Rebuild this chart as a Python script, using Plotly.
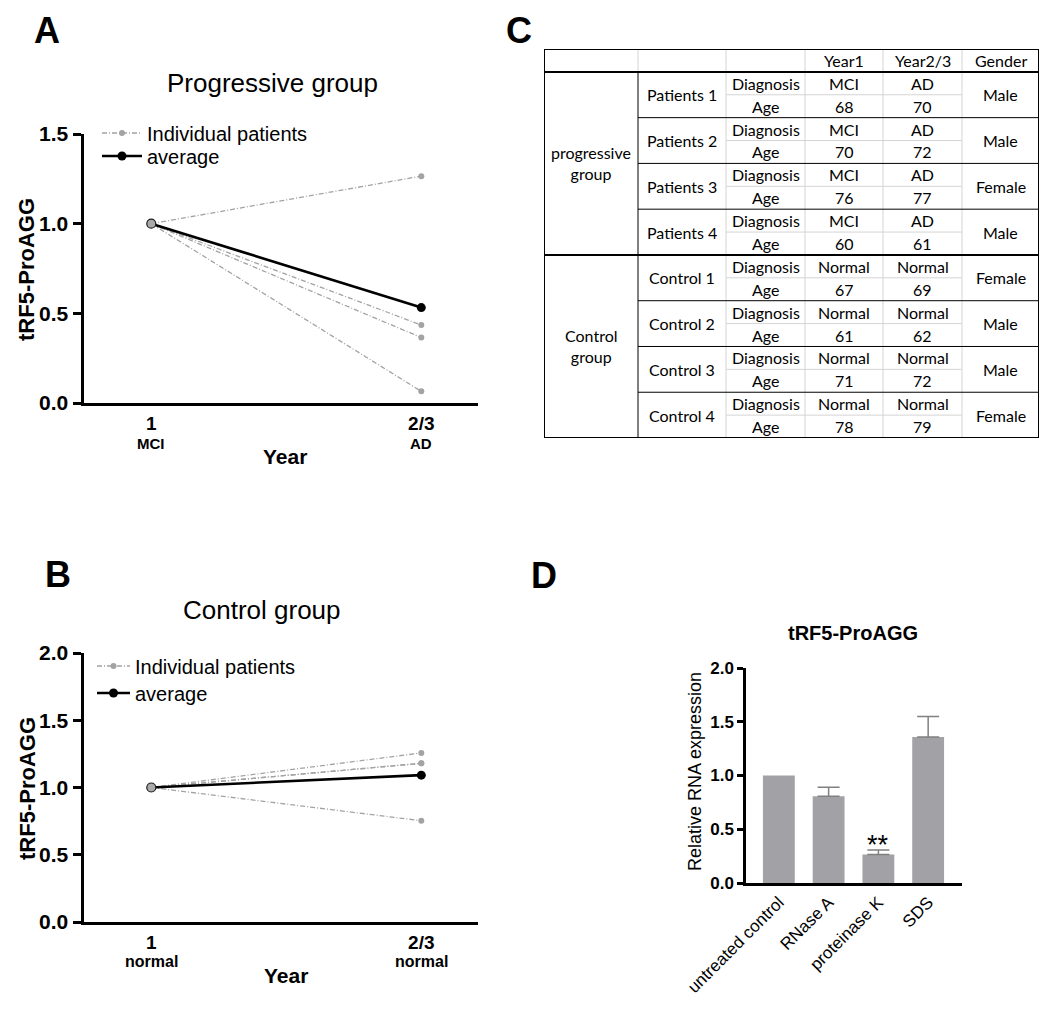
import plotly.graph_objects as go

# The page body has an 8px margin; the figure is sized to fit inside the window.
OFF = 8
W, H = 1050 - 2 * OFF, 1012 - 2 * OFF
def fx(p): return (p - OFF) / W
def fy(p): return 1 - (p - OFF) / H

FONT = "Liberation Sans, Arial, sans-serif"
TFONT = "Lato, Open Sans, sans-serif"

# ---------------- data ----------------
time_points = [0, 1]
time_labels = ["1", "2/3"]
diag_prog = ["MCI", "AD"]
diag_ctrl = ["normal", "normal"]

prog_p1 = [1.0, 1.265]
prog_p2 = [1.0, 0.435]
prog_p3 = [1.0, 0.365]
prog_p4 = [1.0, 0.065]
prog_avg = [1.0, 0.532]

ctrl_c1 = [1.0, 1.257]
ctrl_c2 = [1.0, 1.18]
ctrl_c3 = [1.0, 1.18]
ctrl_c4 = [1.0, 0.753]
ctrl_avg = [1.0, 1.092]

treatments = ["untreated control", "RNase A", "proteinase K", "SDS"]
rel_expr = [1.0, 0.806, 0.265, 1.358]
rel_err = [0.0, 0.085, 0.043, 0.19]
signif = ["", "", "**", ""]

tbl_header = ["", "", "", "Year1", "Year2/3", "Gender"]
tbl_groups = ["progressive<br>group", "Control<br>group"]
tbl_subjects = ["Patients 1", "Patients 2", "Patients 3", "Patients 4",
                "Control 1", "Control 2", "Control 3", "Control 4"]
tbl_items = ["Diagnosis", "Age"]
tbl_dx_y1 = ["MCI", "MCI", "MCI", "MCI", "Normal", "Normal", "Normal", "Normal"]
tbl_dx_y2 = ["AD", "AD", "AD", "AD", "Normal", "Normal", "Normal", "Normal"]
tbl_age_y1 = [68, 70, 76, 60, 67, 61, 71, 78]
tbl_age_y2 = [70, 72, 77, 61, 69, 62, 72, 79]
tbl_gender = ["Male", "Male", "Female", "Male", "Female", "Male", "Male", "Female"]

# ---------------- figure ----------------
fig = go.Figure()
IND_COLOR = "#a3a3a3"
IND_DASH = "5px,2px,1px,2px"

def add_group(xa, ya, individuals, avg, leg_ind, leg_avg):
    for i, ser in enumerate(individuals):
        fig.add_trace(go.Scatter(
            x=time_points, y=ser, mode="lines+markers", xaxis=xa, yaxis=ya,
            line=dict(color=IND_COLOR, width=1.3, dash=IND_DASH),
            marker=dict(color=IND_COLOR, size=6),
            name="Individual patients", legendgroup=leg_ind,
            showlegend=(i == 0), legend=leg_ind))
    fig.add_trace(go.Scatter(
        x=time_points, y=avg, mode="lines+markers", xaxis=xa, yaxis=ya,
        line=dict(color="black", width=2.6), marker=dict(color="black", size=9),
        name="average", legend=leg_avg))
    fig.add_trace(go.Scatter(
        x=time_points[:1], y=avg[:1], mode="markers", xaxis=xa, yaxis=ya,
        marker=dict(color="#a9a9a9", size=9, line=dict(color="#222", width=1.2)),
        showlegend=False, hoverinfo="skip"))

add_group("x", "y", [prog_p1, prog_p2, prog_p3, prog_p4], prog_avg, "legend", "legend3")
add_group("x2", "y2", [ctrl_c1, ctrl_c2, ctrl_c3, ctrl_c4], ctrl_avg, "legend2", "legend4")

fig.add_trace(go.Bar(
    x=treatments, y=rel_expr, xaxis="x3", yaxis="y3", showlegend=False,
    marker=dict(color="#a2a2a6", line=dict(width=0))))
# upper error bars, only where an error was measured
err_idx = [i for i, e in enumerate(rel_err) if e > 0]
fig.add_trace(go.Scatter(
    x=[treatments[i] for i in err_idx], y=[rel_expr[i] for i in err_idx],
    mode="markers", xaxis="x3", yaxis="y3", showlegend=False, hoverinfo="skip",
    marker=dict(size=1, opacity=0),
    error_y=dict(type="data", array=[rel_err[i] for i in err_idx],
                 arrayminus=[0] * len(err_idx), symmetric=False,
                 color="#808080", thickness=1.5, width=11)))

common_x = dict(showline=True, linecolor="black", linewidth=3, ticks="",
                showgrid=False, zeroline=False, tickvals=time_points,
                ticktext=["<b>%s</b>" % t for t in time_labels],
                tickfont=dict(family=FONT, size=19, color="black"),
                ticklabelstandoff=1, range=[-0.251, 1.21], automargin=False)
common_y = dict(showline=True, linecolor="black", linewidth=3, ticks="outside",
                ticklen=8, tickwidth=3, tickcolor="black", showgrid=False,
                zeroline=False, tickformat=".1f",
                tickfont=dict(family=FONT, size=21, color="black", weight="bold"),
                automargin=False)

def leg(x, y, size, itemwidth):
    return dict(x=fx(x), y=fy(y), xanchor="left", yanchor="middle",
                font=dict(family=FONT, size=size, color="black"),
                bgcolor="rgba(0,0,0,0)", itemwidth=itemwidth)

fig.update_layout(
    width=W, height=H, margin=dict(l=0, r=0, t=0, b=0),
    paper_bgcolor="white", plot_bgcolor="white",
    font=dict(family=FONT, color="black"),
    bargap=0.36,
    xaxis=dict(common_x, domain=[fx(83.5), fx(478)], anchor="y"),
    yaxis=dict(common_y, domain=[fy(403), fy(134)], range=[0, 1.5], dtick=0.5, anchor="x"),
    xaxis2=dict(common_x, domain=[fx(83.5), fx(478)], anchor="y2"),
    yaxis2=dict(common_y, domain=[fy(922), fy(653)], range=[0, 2.0], dtick=0.5, anchor="x2"),
    xaxis3=dict(domain=[fx(746), fx(962)], anchor="y3", range=[-0.66, 3.68],
                showline=True, linecolor="black", linewidth=2.5, ticks="",
                tickangle=-45, tickfont=dict(family=FONT, size=17, color="black"),
                showgrid=False, zeroline=False, automargin=False),
    yaxis3=dict(domain=[fy(883), fy(668)], anchor="x3", range=[0, 2.0], dtick=0.5,
                showline=True, linecolor="black", linewidth=2.5, ticks="outside",
                ticklen=6, tickwidth=2.5, tickcolor="black", tickformat=".1f",
                tickfont=dict(family=FONT, size=17, color="black", weight="bold"),
                showgrid=False, zeroline=False, automargin=False),
    xaxis4=dict(domain=[fx(544), fx(1039)], anchor="y4", range=[0, 495], visible=False),
    yaxis4=dict(domain=[fy(438), fy(49)], anchor="x4", range=[17, 0], visible=False),
    legend=leg(97, 133, 20, 40),
    legend3=leg(97, 156, 20, 40),
    legend2=leg(92, 666, 20, 33),
    legend4=leg(92, 693, 20, 33),
)

ann = []
def A(x, y, text, size, xref="paper", yref="paper", bold=False, angle=0, family=FONT,
      xanchor="center", yanchor="middle", **kw):
    if xref == "paper":
        x = fx(x)
    if yref == "paper":
        y = fy(y)
    ann.append(dict(x=x, y=y, xref=xref, yref=yref, text=("<b>%s</b>" % text) if bold else text,
                    showarrow=False, textangle=angle, xanchor=xanchor, yanchor=yanchor,
                    font=dict(family=family, size=size, color="black"), **kw))

# panel letters
A(47, 31, "A", 36, bold=True)
A(58, 574, "B", 36, bold=True)
A(519, 31, "C", 36, bold=True)
A(544, 575, "D", 36, bold=True)

# panel A / B titles
A(272, 83, "Progressive group", 26)
A(262, 610, "Control group", 26)
A(27, 270, "tRF5-ProAGG", 22, bold=True, angle=-90)
A(27, 789, "tRF5-ProAGG", 22, bold=True, angle=-90)
A(285, 456, "Year", 21, bold=True)
A(286, 975, "Year", 21, bold=True)
for t, d in zip(time_points, diag_prog):
    A(t, 443, d, 15, xref="x", bold=True)
for t, d in zip(time_points, diag_ctrl):
    A(t, 961, d, 16, xref="x2", bold=True)

# panel D
A(853, 633, "tRF5-ProAGG", 20, bold=True)
A(695, 772, "Relative RNA expression", 18, angle=-90)
for c, v, e, s in zip(treatments, rel_expr, rel_err, signif):
    if s:
        A(c, v + e, s, 27, xref="x3", yref="y3", yanchor="bottom", yshift=-12)

# ---------------- table (panel C) ----------------
col_edges = [0, 94, 182, 261, 339, 418, 495]
col_mid = [(a + b) / 2 for a, b in zip(col_edges[:-1], col_edges[1:])]
n_rows = 1 + 2 * len(tbl_subjects)
shapes = []
GRAY = "#d4d4d4"
def L(x0, y0, x1, y1, color, width):
    shapes.append(dict(type="line", xref="x4", yref="y4", x0=x0, y0=y0, x1=x1, y1=y1,
                       line=dict(color=color, width=width)))

for xe in col_edges[1:-1]:
    L(xe, 0, xe, 1, GRAY, 1)
for xe in col_edges[2:-1]:
    L(xe, 1, xe, n_rows, GRAY, 1)
L(col_edges[1], 1, col_edges[1], n_rows, "black", 1)
for i in range(len(tbl_subjects)):
    r = 1 + 2 * i
    L(col_edges[2], r + 1, col_edges[5], r + 1, GRAY, 1)
    if i % 4 != 0:
        L(col_edges[1], r, col_edges[6], r, "black", 1)
for r in (1, 9):
    L(0, r, col_edges[-1], r, "black", 2)
shapes.append(dict(type="rect", xref="x4", yref="y4", x0=0, y0=0, x1=col_edges[-1], y1=n_rows,
                   line=dict(color="black", width=2)))

TS = 16
def T(x, y, text):
    A(x, y, text, TS, xref="x4", yref="y4", family=TFONT)

for j, h in enumerate(tbl_header):
    if h:
        T(col_mid[j], 0.5, h)
for g, name in enumerate(tbl_groups):
    T(col_mid[0], 1 + 8 * g + 4, name)
for i, s in enumerate(tbl_subjects):
    r = 1 + 2 * i
    T(col_mid[1], r + 1, s)
    T(col_mid[2], r + 0.5, tbl_items[0])
    T(col_mid[2], r + 1.5, tbl_items[1])
    T(col_mid[3], r + 0.5, tbl_dx_y1[i])
    T(col_mid[4], r + 0.5, tbl_dx_y2[i])
    T(col_mid[3], r + 1.5, str(tbl_age_y1[i]))
    T(col_mid[4], r + 1.5, str(tbl_age_y2[i]))
    T(col_mid[5], r + 1, tbl_gender[i])

fig.update_layout(annotations=ann, shapes=shapes)
fig.write_html("out.html")
